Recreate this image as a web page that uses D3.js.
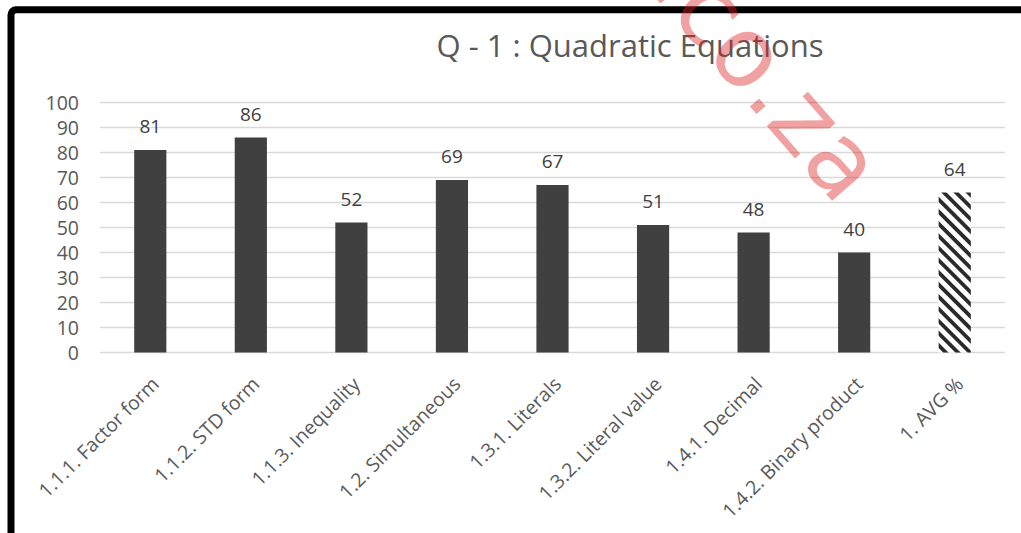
<!DOCTYPE html>
<html>
<head>
<meta charset="utf-8">
<script src="https://cdn.jsdelivr.net/npm/d3@7"></script>
<style>
  html, body { margin: 0; padding: 0; background: #fff; }
  svg { display: block; }
</style>
</head>
<body>
<svg id="chart" width="1021" height="533"></svg>
<script>
const categories = ["1.1.1. Factor form", "1.1.2. STD form", "1.1.3. Inequality", "1.2. Simultaneous",
  "1.3.1. Literals", "1.3.2. Literal value", "1.4.1. Decimal", "1.4.2. Binary product", "1. AVG %"];
const values = [81, 86, 52, 69, 67, 51, 48, 40, 64];
const yTicks = [0, 10, 20, 30, 40, 50, 60, 70, 80, 90, 100];
const title = "Q - 1 : Quadratic Equations";
const watermark = ".co.za";

const FONT = "'Open Sans', sans-serif";
const svg = d3.select("#chart");
const W = 1021, H = 533;

// pattern for average bar
const defs = svg.append("defs");
const pat = defs.append("pattern")
  .attr("id", "hatch").attr("patternUnits", "userSpaceOnUse")
  .attr("width", 8.6).attr("height", 8.6)
  .attr("patternTransform", "rotate(45)");
pat.append("rect").attr("width", 8.6).attr("height", 8.6).attr("fill", "#fff");
pat.append("rect").attr("x", 0).attr("y", 0).attr("width", 8.6).attr("height", 3.8).attr("fill", "#2a2a2a");

svg.append("rect").attr("width", W).attr("height", H).attr("fill", "#fff");

// frame
svg.append("rect")
  .attr("x", 11).attr("y", 9.8).attr("width", 1040).attr("height", 560)
  .attr("rx", 5).attr("fill", "none").attr("stroke", "#000").attr("stroke-width", 7);

const x = d3.scaleBand().domain(categories).range([100, 1005]).paddingInner(0.68).paddingOuter(0.34);
const y = d3.scaleLinear().domain([0, 100]).range([352.5, 102.5]);

// gridlines
svg.append("g").selectAll("line").data(yTicks).join("line")
  .attr("x1", 100).attr("x2", 1005)
  .attr("y1", d => y(d)).attr("y2", d => y(d))
  .attr("stroke", "#d9d9d9").attr("stroke-width", 1.3);

// y axis labels
const yAxis = d3.axisLeft(y).tickValues(yTicks).tickSize(0).tickPadding(0);
const ya = svg.append("g").attr("transform", "translate(79,0)").call(yAxis);
ya.select(".domain").remove();
ya.selectAll("text").attr("font-size", 19.5).attr("fill", "#595959")
  .attr("font-family", FONT).attr("dy", "0.34em");

// bars
svg.append("g").selectAll("rect").data(values).join("rect")
  .attr("x", (d, i) => x(categories[i]))
  .attr("y", d => y(d))
  .attr("width", x.bandwidth())
  .attr("height", d => y(0) - y(d))
  .attr("fill", (d, i) => i === values.length - 1 ? "url(#hatch)" : "#404040");

// data labels
svg.append("g").selectAll("text").data(values).join("text")
  .attr("x", (d, i) => x(categories[i]) + x.bandwidth() / 2)
  .attr("y", d => y(d) - 17)
  .attr("text-anchor", "middle")
  .attr("font-family", FONT)
  .attr("font-size", 19).attr("fill", "#404040")
  .text(d => d);

// x axis category labels
const xa = d3.axisBottom(x).tickSize(0).tickPadding(0);
const xg = svg.append("g").attr("transform", `translate(0,${y(0)})`).call(xa);
xg.select(".domain").remove();
xg.selectAll("text")
  .attr("font-size", 19.5).attr("fill", "#595959")
  .attr("font-family", FONT)
  .attr("text-anchor", "end")
  .attr("y", 0).attr("dy", 0)
  .attr("transform", "translate(10,33) rotate(-45)");

// title
svg.append("text")
  .attr("x", 630).attr("y", 57)
  .attr("text-anchor", "middle")
  .attr("font-family", FONT)
  .attr("font-size", 31).attr("fill", "#595959")
  .text(title);

// watermark
svg.append("text")
  .attr("transform", "translate(647,-12) rotate(49)")
  .attr("font-family", "'DejaVu Sans', sans-serif")
  .attr("font-size", 98)
  .attr("letter-spacing", 1)
  .attr("fill", "rgb(220,30,30)").attr("fill-opacity", 0.42)
  .text(watermark);
</script>
</body>
</html>
